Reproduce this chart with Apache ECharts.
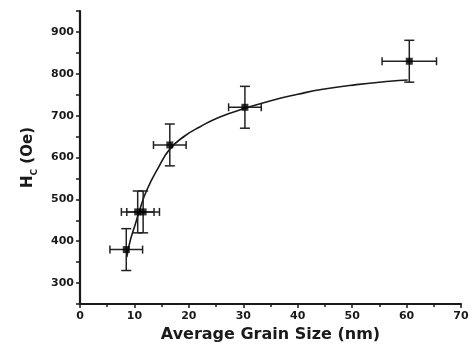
<!DOCTYPE html>
<html>
<head>
<meta charset="utf-8">
<script src="https://cdn.jsdelivr.net/npm/echarts@6/dist/echarts.min.js"></script>
<style>
  html, body { margin: 0; padding: 0; background: #fff; }
  #chart { width: 473px; height: 352px; }
</style>
</head>
<body>
<div id="chart"></div>
<script>
// Measured coercivity versus grain size
const grainSize = [8.5, 10.6, 11.6, 16.5, 30.3, 60.5];
const coercivity = [380, 470, 470, 630, 720, 830];
const grainErr = [3, 3, 3, 3, 3, 5];
const coercErr = [50, 50, 50, 50, 50, 50];

// Fitted trend curve
const fitX = [8.6, 9.2, 10.1, 11.0, 12.2, 14.4, 16.5, 19.3, 22.0, 25.7, 30.5, 35.4, 40.0, 44.6, 50.8, 56.9, 60.2];
const fitY = [362, 400, 438, 476, 520, 576, 620, 652, 673, 697, 718, 737, 751, 763, 774, 782, 785];

const xTicks = [0, 10, 20, 30, 40, 50, 60, 70];
const yTicks = [300, 400, 500, 600, 700, 800, 900];

const points = grainSize.map((x, i) => [x, coercivity[i]]);
const errData = grainSize.map((x, i) => [x, coercivity[i], grainErr[i], coercErr[i]]);
const fitData = fitX.map((x, i) => [x, fitY[i]]);

const ink = '#1a1a1a';
const font = 'DejaVu Sans';
const chart = echarts.init(document.getElementById('chart'), null, { renderer: 'canvas' });

chart.setOption({
  animation: false,
  backgroundColor: '#fff',
  grid: { left: 80, right: 12, top: 11, bottom: 48 },
  xAxis: {
    type: 'value',
    min: xTicks[0],
    max: xTicks[xTicks.length - 1],
    interval: 10,
    name: 'Average Grain Size (nm)',
    nameLocation: 'middle',
    nameGap: 22,
    nameTextStyle: { fontFamily: font, fontSize: 16, fontWeight: 'bold', color: ink },
    axisLine: { onZero: false, lineStyle: { color: ink, width: 2.2 } },
    axisTick: { show: true, length: 4, lineStyle: { color: ink, width: 1.5 } },
    minorTick: { show: true, splitNumber: 2, length: 3, lineStyle: { color: ink, width: 1.5 } },
    splitLine: { show: false },
    axisLabel: { fontFamily: font, fontSize: 11, fontWeight: 'bold', color: ink, margin: 7 }
  },
  yAxis: {
    type: 'value',
    min: 250,
    max: 950,
    interval: 50,
    name: '{h|H}{s|C}{h| (Oe)}',
    nameLocation: 'middle',
    nameGap: 44,
    nameRotate: 90,
    nameTextStyle: {
      color: ink,
      rich: {
        h: { fontFamily: font, fontSize: 15, fontWeight: 'bold', color: ink, verticalAlign: 'bottom', lineHeight: 19 },
        s: { fontFamily: font, fontSize: 9, fontWeight: 'bold', color: ink, verticalAlign: 'bottom', lineHeight: 12, padding: [0, 0, -3, 0] }
      }
    },
    axisLine: { onZero: false, lineStyle: { color: ink, width: 2.2 } },
    axisTick: { show: true, length: 4, lineStyle: { color: ink, width: 1.5 } },
    splitLine: { show: false },
    axisLabel: {
      fontFamily: font, fontSize: 11, fontWeight: 'bold', color: ink, margin: 6,
      formatter: v => (yTicks.indexOf(v) >= 0 ? String(v) : '')
    }
  },
  series: [
    {
      type: 'line',
      data: fitData,
      smooth: true,
      showSymbol: false,
      lineStyle: { color: ink, width: 1.6 },
      z: 2
    },
    {
      type: 'custom',
      data: errData,
      renderItem: (params, api) => {
        const x = api.value(0), y = api.value(1), dx = api.value(2), dy = api.value(3);
        const l = api.coord([x - dx, y]), r = api.coord([x + dx, y]);
        const t = api.coord([x, y + dy]), b = api.coord([x, y - dy]);
        const cap = 4;
        const style = { stroke: '#222', lineWidth: 1.5, fill: null };
        const seg = (x1, y1, x2, y2) => ({ type: 'line', shape: { x1, y1, x2, y2 }, style });
        return {
          type: 'group',
          children: [
            seg(l[0], l[1], r[0], r[1]),
            seg(l[0], l[1] - cap, l[0], l[1] + cap),
            seg(r[0], r[1] - cap, r[0], r[1] + cap),
            seg(t[0], t[1], b[0], b[1]),
            seg(t[0] - cap - 1, t[1], t[0] + cap + 1, t[1]),
            seg(b[0] - cap - 1, b[1], b[0] + cap + 1, b[1])
          ]
        };
      },
      z: 3
    },
    {
      type: 'scatter',
      data: points,
      symbol: 'rect',
      symbolSize: 7,
      itemStyle: { color: '#000' },
      z: 4
    }
  ]
});
</script>
</body>
</html>
